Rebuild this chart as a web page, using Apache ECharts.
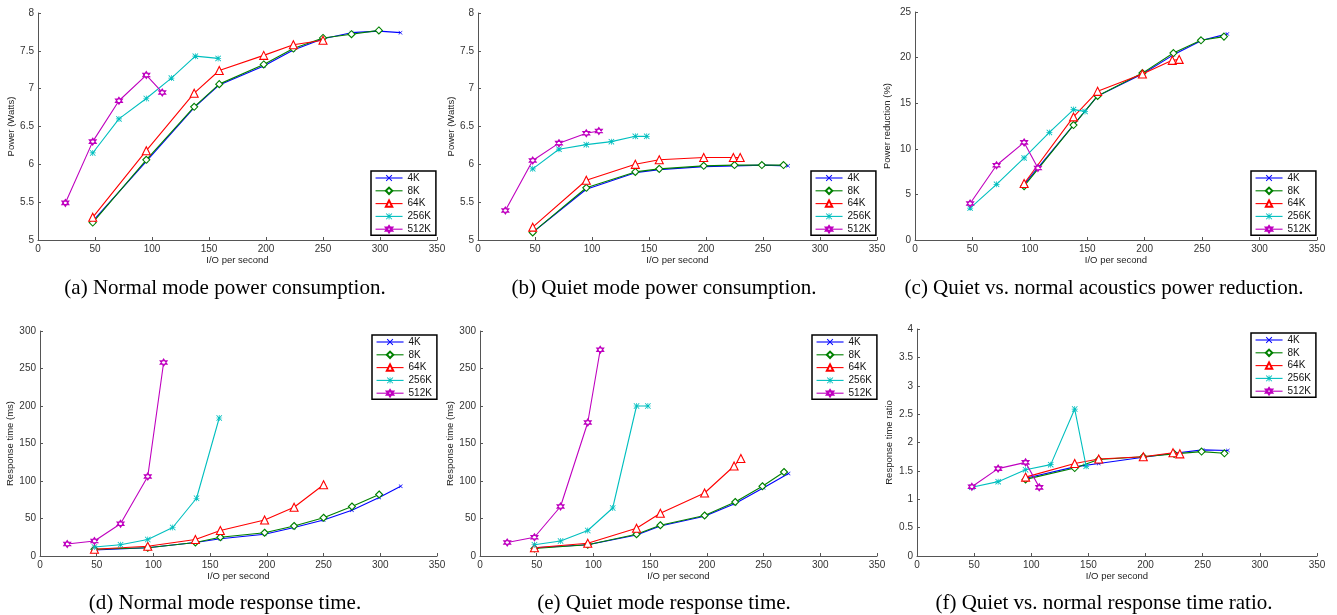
<!DOCTYPE html>
<html><head><meta charset="utf-8">
<script src="https://cdn.jsdelivr.net/npm/echarts@6/dist/echarts.min.js"></script>
<style>html,body{margin:0;padding:0;background:#fff}#c{width:1337px;height:615px}</style>
</head><body><div id="c"></div>
<script>
// ---- Block sizes (legend entries) ----
const sizes = ['4K', '8K', '64K', '256K', '512K'];
const xTicks = [0, 50, 100, 150, 200, 250, 300, 350];

// ---- I/O rates, normal mode (panels a, d) ----
const normIO_4K   = [48, 95, 137, 159, 198, 224, 250, 275, 299, 318];
const normIO_8K   = [48, 95, 137, 159, 198, 224, 250, 275, 299];
const normIO_64K  = [48, 95, 137, 159, 198, 224, 250];
const normIO_256K = [48, 71, 95, 117, 138, 158];
const normIO_512K = [24, 48, 71, 95, 109];

// ---- I/O rates, quiet mode (panels b, e) ----
const quietIO_4K   = [48, 95, 138, 159, 198, 225, 250, 272];
const quietIO_8K   = [48, 95, 138, 159, 198, 225, 249, 268];
const quietIO_64K  = [48, 95, 138, 159, 198, 224, 230];
const quietIO_256K = [48, 71, 95, 117, 138, 148];
const quietIO_512K = [24, 48, 71, 95, 106];

// ---- I/O rates, comparison panels (c, f) ----
const cmpIO_4K   = [95, 138, 159, 198, 225, 250, 272];
const cmpIO_8K   = [95, 138, 159, 198, 225, 249, 269];
const cmpIO_64K  = [95, 138, 159, 198, 224, 230];
const cmpIO_256K = [48, 71, 95, 117, 138, 148];
const cmpIO_512K = [48, 71, 95, 107];

// ---- (a) Normal mode power (W) ----
const normPower_4K   = [5.25, 6.04, 6.75, 7.05, 7.30, 7.51, 7.66, 7.74, 7.76, 7.74];
const normPower_8K   = [5.23, 6.06, 6.76, 7.06, 7.32, 7.53, 7.67, 7.72, 7.77];
const normPower_64K  = [5.30, 6.18, 6.94, 7.24, 7.44, 7.58, 7.64];
const normPower_256K = [6.15, 6.60, 6.87, 7.14, 7.43, 7.40];
const normPower_512K = [5.49, 6.30, 6.84, 7.18, 6.95];

// ---- (b) Quiet mode power (W) ----
const quietPower_4K   = [5.10, 5.67, 5.89, 5.93, 5.97, 5.98, 5.99, 5.98];
const quietPower_8K   = [5.10, 5.69, 5.90, 5.94, 5.98, 5.99, 5.99, 5.99];
const quietPower_64K  = [5.17, 5.79, 6.00, 6.06, 6.09, 6.09, 6.09];
const quietPower_256K = [5.94, 6.20, 6.26, 6.30, 6.37, 6.37];
const quietPower_512K = [5.39, 6.05, 6.28, 6.41, 6.44];

// ---- (c) Power reduction (%) ----
const powerRed_4K   = [6.1, 12.6, 15.8, 18.2, 20.3, 21.9, 22.6];
const powerRed_8K   = [5.9, 12.6, 15.8, 18.3, 20.5, 21.9, 22.3];
const powerRed_64K  = [6.2, 13.5, 16.3, 18.2, 19.7, 19.8];
const powerRed_256K = [3.5, 6.1, 9.0, 11.8, 14.3, 14.1];
const powerRed_512K = [4.0, 8.2, 10.7, 7.9];

// ---- (d) Normal mode response time (ms) ----
const normResp_4K   = [8, 11, 18, 23, 29, 38, 48, 61, 78, 93];
const normResp_8K   = [9, 11, 18, 25, 31, 40, 51, 66, 82];
const normResp_64K  = [9, 13, 22, 34, 48, 65, 95];
const normResp_256K = [12, 15, 22, 38, 77, 184];
const normResp_512K = [16, 20, 43, 106, 258];

// ---- (e) Quiet mode response time (ms) ----
const quietResp_4K   = [11, 15, 28, 40, 53, 70, 91, 110];
const quietResp_8K   = [10, 15, 29, 41, 54, 72, 93, 112];
const quietResp_64K  = [11, 17, 37, 57, 84, 120, 130];
const quietResp_256K = [15, 20, 34, 64, 200, 200];
const quietResp_512K = [18, 25, 66, 178, 275];

// ---- (f) Response time ratio ----
const respRatio_4K   = [1.37, 1.57, 1.63, 1.74, 1.81, 1.87, 1.86];
const respRatio_8K   = [1.35, 1.55, 1.70, 1.75, 1.80, 1.84, 1.81];
const respRatio_64K  = [1.39, 1.63, 1.71, 1.75, 1.82, 1.80];
const respRatio_256K = [1.21, 1.31, 1.52, 1.61, 2.59, 1.58];
const respRatio_512K = [1.22, 1.54, 1.65, 1.21];

// ---- Captions and axis titles ----
const captions = [
  '(a) Normal mode power consumption.',
  '(b) Quiet mode power consumption.',
  '(c) Quiet vs. normal acoustics power reduction.',
  '(d) Normal mode response time.',
  '(e) Quiet mode response time.',
  '(f) Quiet vs. normal response time ratio.'
];
const yNames = ['Power (Watts)', 'Power (Watts)', 'Power reduction (%)',
                'Response time (ms)', 'Response time (ms)', 'Response time ratio'];
const xName = 'I/O per second';

// ---------------------------------------------------------------
const zip = (xs, ys) => xs.map((x, i) => [x, ys[i]]);
const panelData = [
  [[normIO_4K, normPower_4K], [normIO_8K, normPower_8K], [normIO_64K, normPower_64K], [normIO_256K, normPower_256K], [normIO_512K, normPower_512K]],
  [[quietIO_4K, quietPower_4K], [quietIO_8K, quietPower_8K], [quietIO_64K, quietPower_64K], [quietIO_256K, quietPower_256K], [quietIO_512K, quietPower_512K]],
  [[cmpIO_4K, powerRed_4K], [cmpIO_8K, powerRed_8K], [cmpIO_64K, powerRed_64K], [cmpIO_256K, powerRed_256K], [cmpIO_512K, powerRed_512K]],
  [[normIO_4K, normResp_4K], [normIO_8K, normResp_8K], [normIO_64K, normResp_64K], [normIO_256K, normResp_256K], [normIO_512K, normResp_512K]],
  [[quietIO_4K, quietResp_4K], [quietIO_8K, quietResp_8K], [quietIO_64K, quietResp_64K], [quietIO_256K, quietResp_256K], [quietIO_512K, quietResp_512K]],
  [[cmpIO_4K, respRatio_4K], [cmpIO_8K, respRatio_8K], [cmpIO_64K, respRatio_64K], [cmpIO_256K, respRatio_256K], [cmpIO_512K, respRatio_512K]]
];

const colors = ['#0000ff', '#008000', '#ff0000', '#00bfbf', '#bf00bf'];
const xPath = 'path://M0,1 L1,0 L5,4 L9,0 L10,1 L6,5 L10,9 L9,10 L5,6 L1,10 L0,9 L4,5 Z';
const starPath = 'path://M4.4,0 H5.6 V10 H4.4 Z M0,4.4 H10 V5.6 H0 Z M0,1 L1,0 L5,4 L9,0 L10,1 L6,5 L10,9 L9,10 L5,6 L1,10 L0,9 L4,5 Z';
const hexPath = 'path://M5,0 L9.33,7.5 L0.67,7.5 Z M5,10 L0.67,2.5 L9.33,2.5 Z';
const symbols = [xPath, 'diamond', 'triangle', starPath, hexPath];
const symSizes = [4, 7, 8, 6, 7];
const hollow = [false, true, true, false, true];

const grids = [
  {left: 38,  top: 13,  width: 399, height: 227},
  {left: 478, top: 13,  width: 399, height: 227},
  {left: 915, top: 12,  width: 402, height: 228},
  {left: 40,  top: 331, width: 397, height: 225},
  {left: 480, top: 331, width: 397, height: 225},
  {left: 917, top: 329, width: 400, height: 227}
];
const yRanges = [[5, 8, 0.5], [5, 8, 0.5], [0, 25, 5], [0, 300, 50], [0, 300, 50], [0, 4, 0.5]];
const yNameGaps = [21, 21, 23, 23, 23, 23];
const legendPos = [[371, 171], [811, 171], [1251, 171], [372, 335], [812, 335], [1251, 333]];
const captionPos = [[225, 288], [664, 288], [1104, 288], [225, 603], [664, 603], [1104, 603]];

const axisCol = '#555';
const tickFont = {fontFamily: 'Liberation Sans', fontSize: 10, color: '#333'};

const xAxes = [], yAxes = [], series = [], legends = [], graphics = [];
grids.forEach((g, gi) => {
  xAxes.push({
    gridIndex: gi, type: 'value', min: 0, max: 350, interval: 50,
    name: xName, nameLocation: 'middle', nameGap: 14,
    nameTextStyle: {fontFamily: 'Liberation Sans', fontSize: 9.5, color: '#222'},
    axisLine: {show: true, lineStyle: {color: axisCol, width: 1}},
    axisTick: {show: true, inside: true, length: 3, lineStyle: {color: axisCol}},
    axisLabel: Object.assign({margin: 4, showMinLabel: true, showMaxLabel: true}, tickFont),
    splitLine: {show: false}
  });
  yAxes.push({
    gridIndex: gi, type: 'value', min: yRanges[gi][0], max: yRanges[gi][1], interval: yRanges[gi][2],
    name: yNames[gi], nameLocation: 'middle', nameGap: yNameGaps[gi], nameRotate: 90,
    nameTextStyle: {fontFamily: 'Liberation Sans', fontSize: 9.5, color: '#222'},
    axisLine: {show: true, lineStyle: {color: axisCol, width: 1}},
    axisTick: {show: true, inside: true, length: 3, lineStyle: {color: axisCol}},
    axisLabel: Object.assign({margin: 4}, tickFont),
    splitLine: {show: false}
  });
  panelData[gi].forEach((pair, si) => {
    const c = colors[si];
    series.push({
      type: 'line', name: sizes[si], xAxisIndex: gi, yAxisIndex: gi,
      data: zip(pair[0], pair[1]),
      symbol: symbols[si], symbolSize: symSizes[si], showSymbol: true,
      lineStyle: {color: c, width: 1.1},
      itemStyle: hollow[si] ? {color: '#fff', borderColor: c, borderWidth: 1.1} : {color: c, borderWidth: 0},
      z: 2 + si
    });
  });
  legends.push({
    data: sizes, orient: 'vertical', left: legendPos[gi][0], top: legendPos[gi][1],
    backgroundColor: '#fff', borderColor: '#000', borderWidth: 1.5, borderRadius: 0,
    padding: [2, 5, 1, 4], itemGap: 2.8, itemWidth: 27, itemHeight: 8,
    lineStyle: {width: 1.1},
    textStyle: {fontFamily: 'Liberation Sans', fontSize: 10, color: '#111', lineHeight: 10},
    selectedMode: false
  });
  graphics.push({
    type: 'text', x: captionPos[gi][0], y: captionPos[gi][1],
    style: {text: captions[gi], font: '21px "Liberation Serif"', fill: '#000',
            textAlign: 'center', textVerticalAlign: 'middle'}
  });
});

const chart = echarts.init(document.getElementById('c'), null, {renderer: 'canvas'});
chart.setOption({
  animation: false,
  backgroundColor: '#fff',
  grid: grids, xAxis: xAxes, yAxis: yAxes, series: series,
  legend: legends, graphic: graphics
});
</script></body></html>
